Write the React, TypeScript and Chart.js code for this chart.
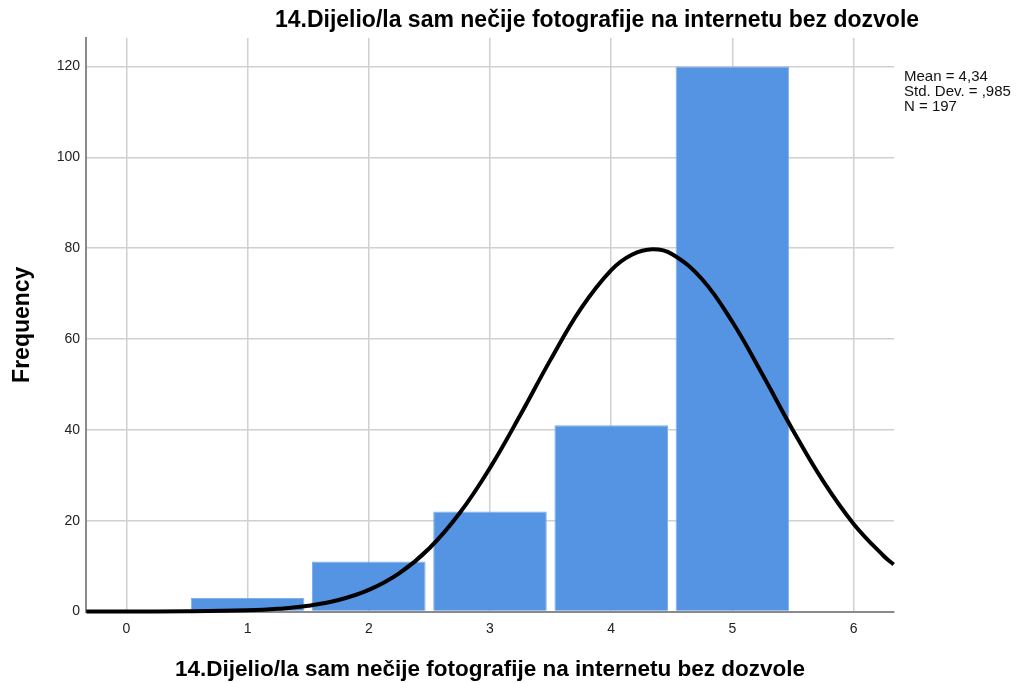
import React, { useEffect, useRef } from "react";
import { Chart, registerables } from "chart.js";

Chart.register(...registerables);

// Histogram data
const binCenters: number[] = [1, 2, 3, 4, 5];
const frequencies: number[] = [3, 11, 22, 41, 120];

// Normal curve
const curveX: number[] = [-0.33, 0, 0.5, 1, 1.25, 1.5, 1.75, 2, 2.25, 2.5, 2.75, 3, 3.25, 3.5, 3.75, 4, 4.17, 4.34, 4.5, 4.75, 5, 5.25, 5.5, 5.75, 6, 6.25, 6.33];
const curveY: number[] = [0, 0, 0.04, 0.25, 0.58, 1.25, 2.52, 4.75, 8.4, 13.93, 21.68, 31.64, 43.26, 55.47, 66.69, 75.17, 78.56, 79.79, 78.75, 73.17, 63.75, 52.07, 39.88, 28.64, 19.29, 12.17, 10.37];

const xTickValues: number[] = [0, 1, 2, 3, 4, 5, 6];
const yTickValues: number[] = [0, 20, 40, 60, 80, 100, 120];

const chartTitle = "14.Dijelio/la sam nečije fotografije na internetu bez dozvole";
const xAxisTitle = "14.Dijelio/la sam nečije fotografije na internetu bez dozvole";
const yAxisTitle = "Frequency";
const statsLines: string[] = ["Mean = 4,34", "Std. Dev. = ,985", "N = 197"];

const FONT = "'Liberation Sans', Arial, Helvetica, sans-serif";

const textPlugin = {
  id: "spssText",
  afterDraw(chart: any) {
    const ctx = chart.ctx;
    const area = chart.chartArea;
    ctx.save();
    ctx.fillStyle = "#000";
    ctx.font = `bold 23px ${FONT}`;
    ctx.textAlign = "center";
    ctx.textBaseline = "alphabetic";
    ctx.fillText(chartTitle, 597, 27);
    ctx.font = `15px ${FONT}`;
    ctx.textAlign = "left";
    ctx.fillStyle = "#111";
    statsLines.forEach((s, i) => {
      ctx.fillText(s, area.right + 10, 81 + i * 15);
    });
    ctx.restore();
  },
};

export default function App() {
  const ref = useRef<HTMLCanvasElement | null>(null);

  useEffect(() => {
    if (!ref.current) return;
    const chart = new Chart(ref.current, {
      type: "bar",
      data: {
        datasets: [
          {
            type: "line" as any,
            data: curveX.map((x, i) => ({ x, y: curveY[i] })),
            borderColor: "#000",
            borderWidth: 4,
            pointRadius: 0,
            tension: 0.4,
            cubicInterpolationMode: "default",
            fill: false,
            order: 0,
            clip: false as any,
          } as any,
          {
            type: "bar" as any,
            data: binCenters.map((x, i) => ({ x, y: frequencies[i] })),
            backgroundColor: "rgb(84,148,227)",
            borderColor: "rgb(126,175,237)",
            borderWidth: 1,
            barPercentage: 0.937,
            categoryPercentage: 1,
            order: 1,
          } as any,
        ],
      },
      options: {
        animation: false,
        responsive: false,
        maintainAspectRatio: false,
        layout: { padding: { top: 38, right: 124, left: 0, bottom: 0 } },
        plugins: {
          legend: { display: false },
          tooltip: { enabled: false },
          title: { display: false },
        },
        scales: {
          x: {
            type: "linear",
            min: -0.333,
            max: 6.333,
            offset: false,
            afterFit: (s: any) => {
              s.height = 71.5;
            },
            afterBuildTicks: (s: any) => {
              s.ticks = xTickValues.map((v) => ({ value: v }));
            },
            ticks: {
              includeBounds: false,
              stepSize: 1,
              padding: 9,
              color: "#222",
              font: { family: FONT, size: 14 },
            },
            grid: {
              offset: false,
              drawTicks: false,
              color: "#d0d0d0",
              lineWidth: 1.5,
            },
            border: { color: "#8a8a8a", width: 2 },
            title: {
              display: true,
              text: xAxisTitle,
              color: "#000",
              font: { family: FONT, size: 22.5, weight: "bold" },
              padding: { top: 0, bottom: 0 },
            },
          },
          y: {
            type: "linear",
            min: 0,
            max: 126.3,
            afterFit: (s: any) => {
              s.width = 86;
            },
            afterBuildTicks: (s: any) => {
              s.ticks = yTickValues.map((v) => ({ value: v }));
            },
            ticks: {
              includeBounds: false,
              stepSize: 20,
              padding: 6,
              color: "#222",
              font: { family: FONT, size: 14 },
            },
            grid: {
              drawTicks: false,
              color: "#d0d0d0",
              lineWidth: 1.5,
            },
            border: { color: "#8a8a8a", width: 2 },
            title: {
              display: true,
              text: yAxisTitle,
              color: "#000",
              font: { family: FONT, size: 23, weight: "bold" },
              padding: { top: 9, bottom: 0 },
            },
          },
        },
      } as any,
      plugins: [textPlugin],
    });
    return () => chart.destroy();
  }, []);

  return (
    <div style={{ position: "fixed", left: 0, top: 0, width: 1018, height: 683, background: "#fff" }}>
      <canvas ref={ref} width={1018} height={683} style={{ display: "block" }} />
    </div>
  );
}
